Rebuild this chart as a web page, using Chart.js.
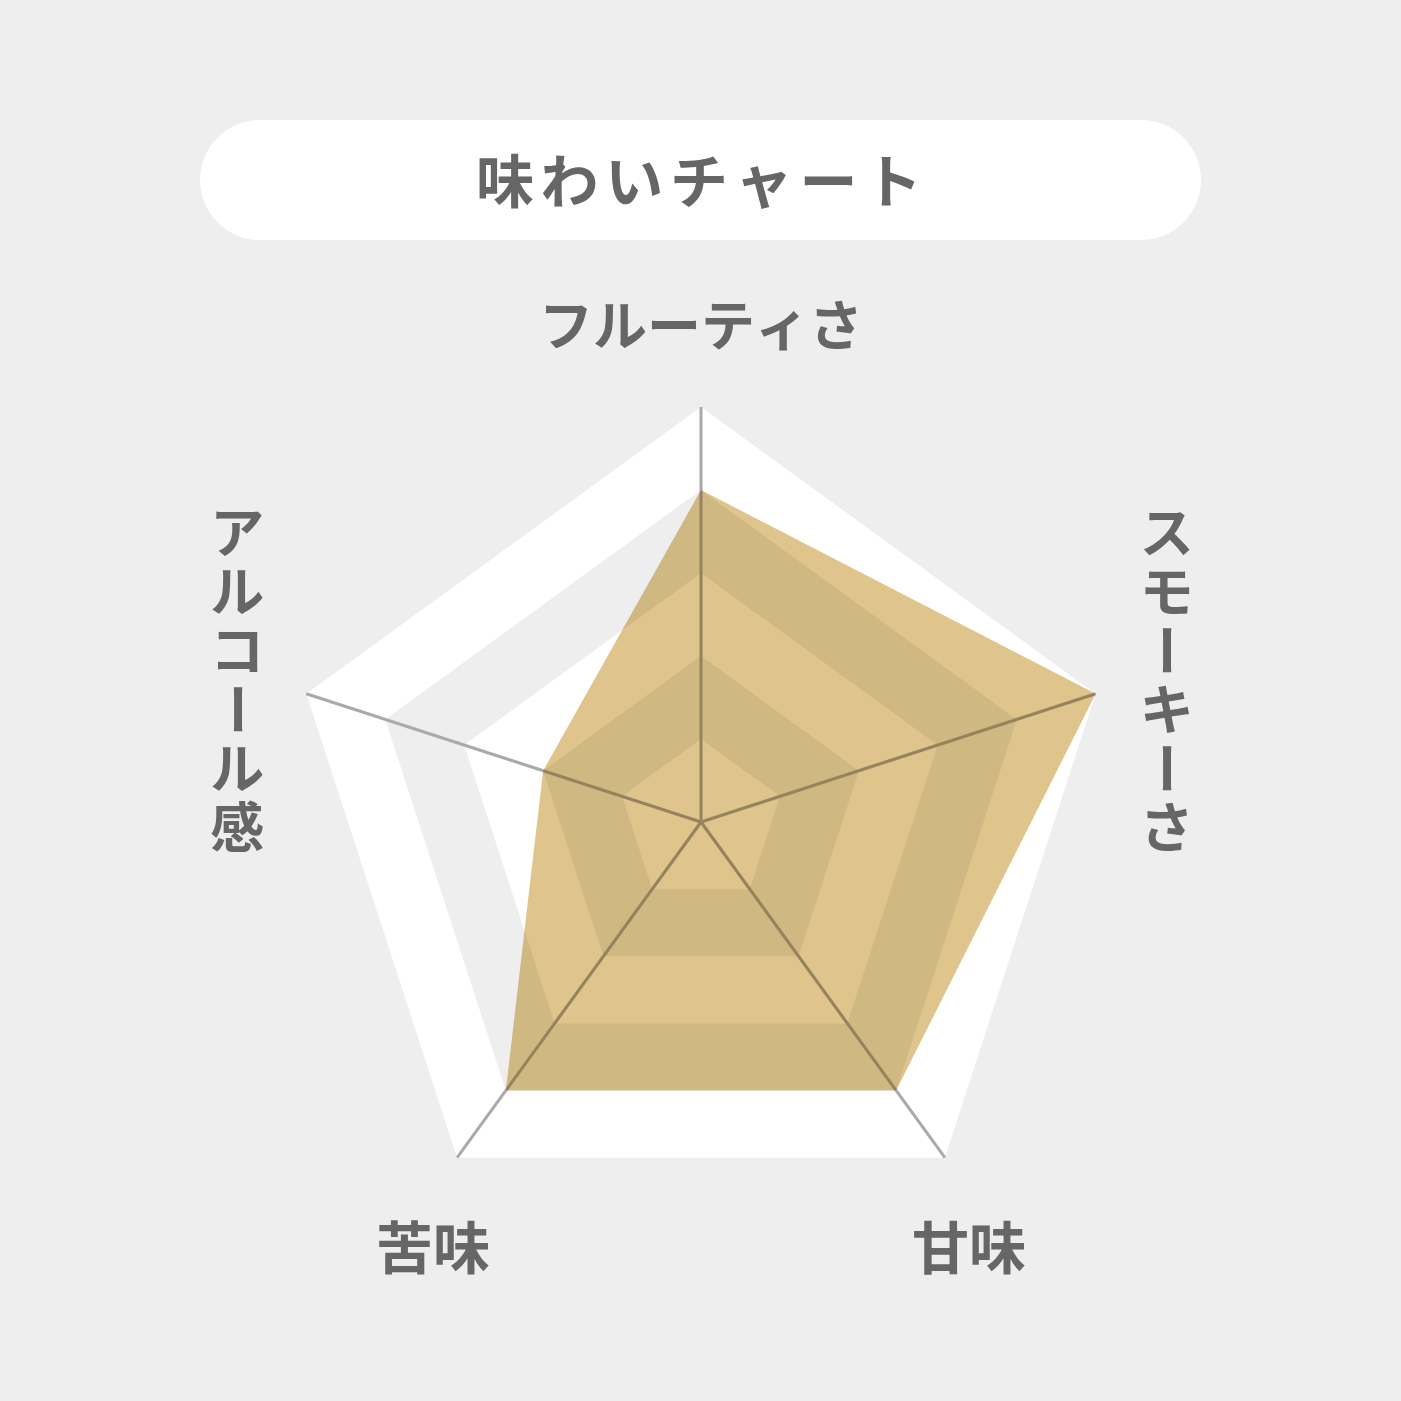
<!DOCTYPE html>
<html lang="ja">
<head>
<meta charset="utf-8">
<title>味わいチャート</title>
<script src="https://cdn.jsdelivr.net/npm/chart.js@4.4.1/dist/chart.umd.min.js"></script>
<style>
  html, body { margin: 0; padding: 0; background: #eeeeee; }
  canvas { display: block; }
</style>
</head>
<body>
<canvas id="tasteChart" width="1401" height="1401"></canvas>
<script>
// データ
const chartTitle = '味わいチャート';
const categories = ['フルーティさ', 'スモーキーさ', '甘味', '苦味', 'アルコール感'];
const scores = [4, 5, 4, 4, 2];
const scaleMax = 5;

const FONT = '"Noto Sans CJK JP", "Noto Sans", sans-serif';
const TEXT_COLOR = '#666666';

// 縦書きのラベルを描く（ー は回転させる）
function drawVertical(ctx, text, cx, cy, step) {
  const chars = Array.from(text);
  chars.forEach((ch, i) => {
    const y = cy + (i - (chars.length - 1) / 2) * step;
    if (ch === 'ー') {
      ctx.save();
      ctx.translate(cx, y);
      ctx.rotate(Math.PI / 2);
      ctx.fillText(ch, 0, 0);
      ctx.restore();
    } else {
      ctx.fillText(ch, cx, y);
    }
  });
}

// 背景・タイトル・帯
const backgroundPlugin = {
  id: 'background',
  beforeDraw(chart) {
    const ctx = chart.ctx;
    const scale = chart.scales.r;
    ctx.save();
    ctx.fillStyle = '#eeeeee';
    ctx.fillRect(0, 0, chart.width, chart.height);

    // タイトルの白い枠
    ctx.fillStyle = '#ffffff';
    ctx.beginPath();
    ctx.roundRect(200, 120, 1001, 120, 60);
    ctx.fill();

    ctx.fillStyle = TEXT_COLOR;
    ctx.font = 'bold 58px ' + FONT;
    ctx.textAlign = 'center';
    ctx.textBaseline = 'middle';
    const tChars = Array.from(chartTitle);
    tChars.forEach((ch, i) => {
      ctx.fillText(ch, 699 + (i - (tChars.length - 1) / 2) * 64.7, 181);
    });

    // 五角形の帯（外側から白・グレー交互）
    for (let v = scaleMax; v >= 1; v--) {
      const r = scale.getDistanceFromCenterForValue(v);
      ctx.beginPath();
      for (let i = 0; i < categories.length; i++) {
        const p = scale.getPointPosition(i, r);
        if (i === 0) ctx.moveTo(p.x, p.y); else ctx.lineTo(p.x, p.y);
      }
      ctx.closePath();
      ctx.fillStyle = (v % 2 === 1) ? '#ffffff' : '#eeeeee';
      ctx.fill();
    }
    ctx.restore();
  }
};

// データの塗りは乗算で重ねる
const multiplyPlugin = {
  id: 'multiply',
  beforeDatasetsDraw(chart) {
    chart.ctx.save();
    chart.ctx.globalCompositeOperation = 'multiply';
  },
  afterDatasetsDraw(chart) {
    chart.ctx.restore();
  }
};

// 項目ラベル
const labelPlugin = {
  id: 'axisLabels',
  afterDraw(chart) {
    const ctx = chart.ctx;
    const scale = chart.scales.r;
    // 頂点からのずれ、縦書きかどうか、文字サイズ
    const layout = [
      { dx: 0, dy: -82, vertical: false, size: 54 },
      { dx: 71, dy: -14, vertical: true, size: 54 },
      { dx: 24, dy: 90, vertical: false, size: 57 },
      { dx: -24, dy: 90, vertical: false, size: 57 },
      { dx: -69, dy: -14, vertical: true, size: 54 }
    ];
    ctx.save();
    ctx.fillStyle = TEXT_COLOR;
    ctx.textAlign = 'center';
    ctx.textBaseline = 'middle';
    categories.forEach((label, i) => {
      const p = scale.getPointPosition(i, scale.drawingArea);
      const l = layout[i];
      ctx.font = 'bold ' + l.size + 'px ' + FONT;
      if (l.vertical) {
        drawVertical(ctx, label, p.x + l.dx, p.y + l.dy, 59);
      } else {
        ctx.fillText(label, p.x + l.dx, p.y + l.dy);
      }
    });
    ctx.restore();
  }
};

const ctx = document.getElementById('tasteChart').getContext('2d');
const tasteChart = new Chart(ctx, {
  type: 'radar',
  data: {
    labels: categories,
    datasets: [{
      label: chartTitle,
      data: scores,
      backgroundColor: '#dfc58c',
      borderWidth: 0,
      pointRadius: 0,
      fill: true
    }]
  },
  options: {
    responsive: false,
    animation: false,
    devicePixelRatio: 1,
    layout: {
      padding: { left: 286, right: 285, top: 407, bottom: 164 }
    },
    plugins: {
      legend: { display: false },
      title: { display: false },
      tooltip: { enabled: false }
    },
    scales: {
      r: {
        min: 0,
        max: scaleMax,
        ticks: { display: false, stepSize: 1 },
        grid: { display: false },
        angleLines: { color: '#aaaaaa', lineWidth: 3 },
        pointLabels: { display: false }
      }
    }
  },
  plugins: [backgroundPlugin, multiplyPlugin, labelPlugin]
});
</script>
</body>
</html>
